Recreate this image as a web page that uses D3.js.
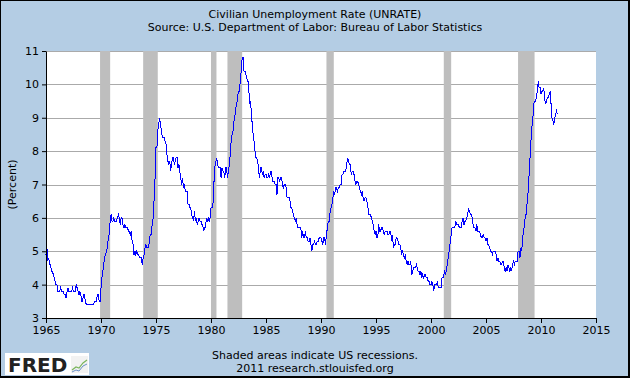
<!DOCTYPE html>
<html>
<head>
<meta charset="utf-8">
<script src="https://cdn.jsdelivr.net/npm/d3@7"></script>
<style>
  body { margin: 0; background: #fff; }
  svg text { font-family: "DejaVu Sans", Verdana, sans-serif; }
</style>
</head>
<body>
<svg id="chart"></svg>
<script>
// monthly civilian unemployment rate, one row per year starting Jan 1965
const startYear = 1965;
const rates = [
  [4.9, 5.1, 4.7, 4.8, 4.6, 4.6, 4.4, 4.4, 4.3, 4.2, 4.1, 4.0],
  [4.0, 3.8, 3.8, 3.8, 3.9, 3.8, 3.8, 3.8, 3.7, 3.7, 3.6, 3.8],
  [3.9, 3.8, 3.8, 3.8, 3.8, 3.9, 3.8, 3.8, 3.8, 4.0, 3.9, 3.8],
  [3.7, 3.8, 3.7, 3.5, 3.5, 3.7, 3.7, 3.5, 3.4, 3.4, 3.4, 3.4],
  [3.4, 3.4, 3.4, 3.4, 3.4, 3.5, 3.5, 3.5, 3.7, 3.7, 3.5, 3.5],
  [3.9, 4.2, 4.4, 4.6, 4.8, 4.9, 5.0, 5.1, 5.4, 5.5, 5.9, 6.1],
  [5.9, 5.9, 6.0, 5.9, 5.9, 5.9, 6.0, 6.1, 6.0, 5.8, 6.0, 6.0],
  [5.8, 5.7, 5.8, 5.7, 5.7, 5.7, 5.6, 5.6, 5.5, 5.6, 5.3, 5.2],
  [4.9, 5.0, 4.9, 5.0, 4.9, 4.9, 4.8, 4.8, 4.8, 4.6, 4.8, 4.9],
  [5.1, 5.2, 5.1, 5.1, 5.1, 5.4, 5.5, 5.5, 5.9, 6.0, 6.6, 7.2],
  [8.1, 8.1, 8.6, 8.8, 9.0, 8.8, 8.6, 8.4, 8.4, 8.4, 8.3, 8.2],
  [7.9, 7.7, 7.6, 7.7, 7.4, 7.6, 7.8, 7.8, 7.6, 7.7, 7.8, 7.8],
  [7.5, 7.6, 7.4, 7.2, 7.0, 7.2, 6.9, 7.0, 6.8, 6.8, 6.8, 6.4],
  [6.4, 6.3, 6.3, 6.1, 6.0, 5.9, 6.2, 5.9, 6.0, 5.8, 5.9, 6.0],
  [5.9, 5.9, 5.8, 5.8, 5.6, 5.7, 5.7, 6.0, 5.9, 6.0, 5.9, 6.0],
  [6.3, 6.3, 6.3, 6.9, 7.5, 7.6, 7.8, 7.7, 7.5, 7.5, 7.5, 7.2],
  [7.5, 7.4, 7.4, 7.2, 7.5, 7.5, 7.2, 7.4, 7.6, 7.9, 8.3, 8.5],
  [8.6, 8.9, 9.0, 9.3, 9.4, 9.6, 9.8, 9.8, 10.1, 10.4, 10.8, 10.8],
  [10.4, 10.4, 10.3, 10.2, 10.1, 10.1, 9.4, 9.5, 9.2, 8.8, 8.5, 8.3],
  [8.0, 7.8, 7.8, 7.7, 7.4, 7.2, 7.5, 7.5, 7.3, 7.4, 7.2, 7.3],
  [7.3, 7.2, 7.2, 7.3, 7.2, 7.4, 7.4, 7.1, 7.1, 7.1, 7.0, 7.0],
  [6.7, 7.2, 7.2, 7.1, 7.2, 7.2, 7.0, 6.9, 7.0, 7.0, 6.9, 6.6],
  [6.6, 6.6, 6.6, 6.3, 6.3, 6.2, 6.1, 6.0, 5.9, 6.0, 5.8, 5.7],
  [5.7, 5.7, 5.7, 5.4, 5.6, 5.4, 5.4, 5.6, 5.4, 5.4, 5.3, 5.3],
  [5.4, 5.2, 5.0, 5.2, 5.2, 5.3, 5.2, 5.2, 5.3, 5.3, 5.4, 5.4],
  [5.4, 5.3, 5.2, 5.4, 5.4, 5.2, 5.5, 5.7, 5.9, 5.9, 6.2, 6.3],
  [6.4, 6.6, 6.8, 6.7, 6.9, 6.9, 6.8, 6.9, 6.9, 7.0, 7.0, 7.3],
  [7.3, 7.4, 7.4, 7.4, 7.6, 7.8, 7.7, 7.6, 7.6, 7.3, 7.4, 7.4],
  [7.3, 7.1, 7.0, 7.1, 7.1, 7.0, 6.9, 6.8, 6.7, 6.8, 6.6, 6.5],
  [6.6, 6.6, 6.5, 6.4, 6.1, 6.1, 6.1, 6.0, 5.9, 5.8, 5.6, 5.5],
  [5.6, 5.4, 5.4, 5.8, 5.6, 5.6, 5.7, 5.7, 5.6, 5.5, 5.6, 5.6],
  [5.6, 5.5, 5.5, 5.6, 5.6, 5.3, 5.5, 5.1, 5.2, 5.2, 5.4, 5.4],
  [5.3, 5.2, 5.2, 5.1, 4.9, 5.0, 4.9, 4.8, 4.9, 4.7, 4.6, 4.7],
  [4.6, 4.6, 4.7, 4.3, 4.4, 4.5, 4.5, 4.5, 4.6, 4.5, 4.4, 4.4],
  [4.3, 4.4, 4.2, 4.3, 4.2, 4.3, 4.3, 4.2, 4.2, 4.1, 4.1, 4.0],
  [4.0, 4.1, 4.0, 3.8, 4.0, 4.0, 4.0, 4.1, 3.9, 3.9, 3.9, 3.9],
  [4.2, 4.2, 4.3, 4.4, 4.3, 4.5, 4.6, 4.9, 5.0, 5.3, 5.5, 5.7],
  [5.7, 5.7, 5.7, 5.9, 5.8, 5.8, 5.8, 5.7, 5.7, 5.7, 5.9, 6.0],
  [5.8, 5.9, 5.9, 6.0, 6.1, 6.3, 6.2, 6.1, 6.1, 6.0, 5.8, 5.7],
  [5.7, 5.6, 5.8, 5.6, 5.6, 5.6, 5.5, 5.4, 5.4, 5.5, 5.4, 5.4],
  [5.3, 5.4, 5.2, 5.2, 5.1, 5.0, 5.0, 4.9, 5.0, 5.0, 5.0, 4.9],
  [4.7, 4.8, 4.7, 4.7, 4.6, 4.6, 4.7, 4.7, 4.5, 4.4, 4.5, 4.4],
  [4.6, 4.5, 4.4, 4.5, 4.4, 4.6, 4.7, 4.6, 4.7, 4.7, 4.7, 5.0],
  [5.0, 4.8, 5.1, 5.0, 5.4, 5.6, 5.8, 6.1, 6.1, 6.5, 6.8, 7.3],
  [7.8, 8.3, 8.7, 8.9, 9.4, 9.5, 9.5, 9.6, 9.8, 10.1, 9.9, 9.9],
  [9.7, 9.8, 9.8, 9.9, 9.6, 9.4, 9.5, 9.6, 9.6, 9.7, 9.8, 9.4],
  [9.0, 8.9, 8.8, 9.0, 9.1, 9.2, 9.1]
];

// NBER recessions (peak month, trough month)
const recessions = [
  ["1969-12", "1970-11"],
  ["1973-11", "1975-03"],
  ["1980-01", "1980-07"],
  ["1981-07", "1982-11"],
  ["1990-07", "1991-03"],
  ["2001-03", "2001-11"],
  ["2007-12", "2009-06"]
];

const xTicks = [1965, 1970, 1975, 1980, 1985, 1990, 1995, 2000, 2005, 2010, 2015];
const yTicks = [3, 4, 5, 6, 7, 8, 9, 10, 11];

const W = 630, H = 378;
const margin = { top: 51, right: 34, bottom: 60, left: 46 };
const width = W - margin.left - margin.right;
const height = H - margin.top - margin.bottom;

const parseMonth = d3.timeParse("%Y-%m");
const data = [];
rates.forEach((row, i) => {
  row.forEach((v, m) => data.push({ date: new Date(startYear + i, m, 1), value: v }));
});

const svg = d3.select("#chart").attr("width", W).attr("height", H);

// background + frame (heavier on right / bottom like the original)
svg.append("rect")
  .attr("width", W).attr("height", H)
  .attr("fill", "#000");
svg.append("rect")
  .attr("x", 1).attr("y", 1)
  .attr("width", W - 3).attr("height", H - 3)
  .attr("fill", "#b4cde4");

svg.append("text")
  .attr("x", W / 2).attr("y", 18)
  .attr("text-anchor", "middle")
  .attr("font-size", 11)
  .text("Civilian Unemployment Rate (UNRATE)");
svg.append("text")
  .attr("x", W / 2).attr("y", 31)
  .attr("text-anchor", "middle")
  .attr("font-size", 11)
  .text("Source: U.S. Department of Labor: Bureau of Labor Statistics");

const x = d3.scaleTime()
  .domain([new Date(1965, 0, 1), new Date(2015, 0, 1)])
  .range([0, width]);
const y = d3.scaleLinear()
  .domain([3, 11])
  .range([height, 0]);

const chart = svg.append("g")
  .attr("transform", `translate(${margin.left},${margin.top})`);

chart.append("rect")
  .attr("width", width).attr("height", height)
  .attr("fill", "#fff");

// grid lines
chart.selectAll(".grid")
  .data(yTicks.slice(1))
  .join("line")
  .attr("class", "grid")
  .attr("x1", 0).attr("x2", width)
  .attr("y1", d => Math.round(y(d)) + 0.5)
  .attr("y2", d => Math.round(y(d)) + 0.5)
  .attr("stroke", "#aaa");

// recession shading
chart.selectAll(".rec")
  .data(recessions)
  .join("rect")
  .attr("class", "rec")
  .attr("x", d => x(parseMonth(d[0])))
  .attr("width", d => x(parseMonth(d[1])) - x(parseMonth(d[0])))
  .attr("y", 0)
  .attr("height", height)
  .attr("fill", "#bebebe");

const line = d3.line()
  .x(d => x(d.date))
  .y(d => y(d.value));

chart.append("path")
  .datum(data)
  .attr("d", line)
  .attr("fill", "none")
  .attr("stroke", "#0000ff")
  .attr("stroke-width", 1)
  .attr("shape-rendering", "crispEdges");

// axes
const xAxis = d3.axisBottom(x)
  .tickValues(xTicks.map(yr => new Date(yr, 0, 1)))
  .tickFormat(d3.timeFormat("%Y"))
  .tickSizeInner(5)
  .tickSizeOuter(0)
  .tickPadding(3);
const yAxis = d3.axisLeft(y)
  .tickValues(yTicks)
  .tickSizeInner(4)
  .tickSizeOuter(0)
  .tickPadding(3);

const xAxisG = chart.append("g")
  .attr("transform", `translate(0,${height})`)
  .call(xAxis);
const yAxisG = chart.append("g").call(yAxis);

[xAxisG, yAxisG].forEach(g => {
  g.selectAll("text").attr("font-size", 11).attr("fill", "#000")
    .attr("font-family", "DejaVu Sans, Verdana, sans-serif");
  g.selectAll("line").attr("stroke", "#000");
  g.select(".domain").attr("stroke", "#000");
});

svg.append("text")
  .attr("transform", `translate(16,${margin.top + height / 2}) rotate(-90)`)
  .attr("text-anchor", "middle")
  .attr("font-size", 11)
  .text("(Percent)");

svg.append("text")
  .attr("x", W / 2).attr("y", 359)
  .attr("text-anchor", "middle")
  .attr("font-size", 11)
  .text("Shaded areas indicate US recessions.");
svg.append("text")
  .attr("x", W / 2).attr("y", 372)
  .attr("text-anchor", "middle")
  .attr("font-size", 11)
  .text("2011 research.stlouisfed.org");

// FRED logo
const logo = svg.append("g").attr("transform", "translate(5,353)");
logo.append("rect").attr("width", 84).attr("height", 22).attr("fill", "#fff");
logo.append("text")
  .attr("x", 3).attr("y", 19)
  .attr("font-size", 20)
  .attr("font-weight", "bold")
  .attr("font-family", "Liberation Sans, Arial, sans-serif")
  .attr("fill", "#222")
  .text("FRED");
logo.append("rect").attr("x", 66).attr("y", 3).attr("width", 17).attr("height", 17)
  .attr("fill", "#f2f2f2");
logo.append("polyline")
  .attr("points", "67,17 71,14 74,15 78,10 82,7")
  .attr("fill", "none").attr("stroke", "#7ab55c").attr("stroke-width", 1.2);
logo.append("polyline")
  .attr("points", "67,19 71,17 74,18 78,13 82,11")
  .attr("fill", "none").attr("stroke", "#6a8fc8").attr("stroke-width", 1);
</script>
</body>
</html>
